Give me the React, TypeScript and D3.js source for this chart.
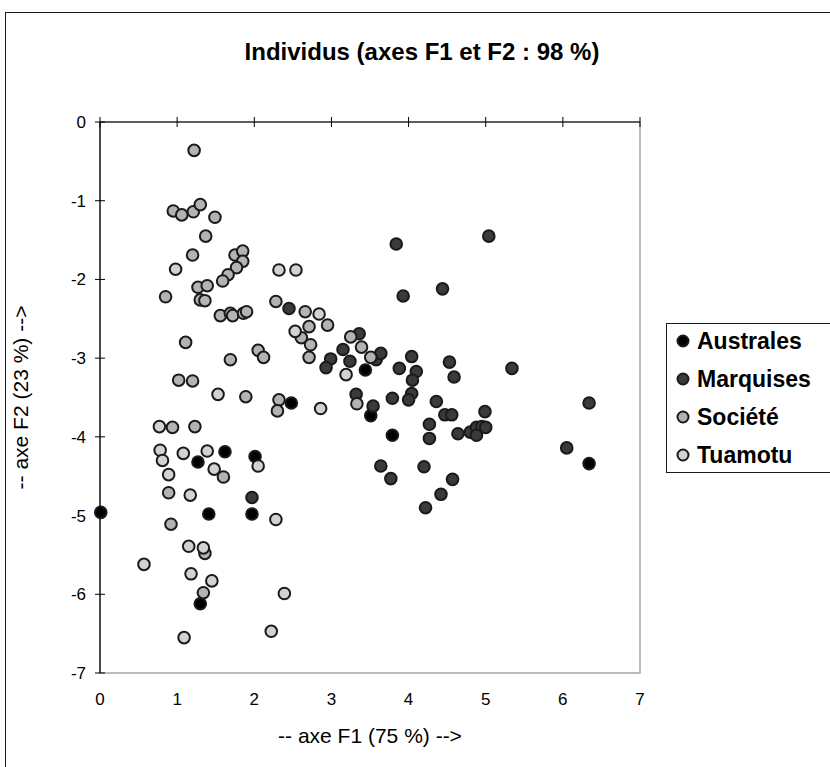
import React, { useEffect, useRef } from "react";
import * as d3 from "d3";

// individual scores on F1 / F2, per archipelago
const australes: [number, number][] = [
  [0.01, -4.96], [1.27, -4.32], [1.62, -4.19], [2.01, -4.25], [1.41, -4.98],
  [1.97, -4.98], [1.3, -6.12], [2.48, -3.57], [3.44, -3.15], [3.51, -3.73],
  [3.79, -3.98], [6.34, -4.34],
];

const marquises: [number, number][] = [
  [1.97, -4.77], [2.45, -2.37], [3.84, -1.55], [3.93, -2.21], [4.44, -2.12],
  [5.04, -1.45], [3.36, -2.69], [3.15, -2.89], [3.24, -3.04], [2.99, -3.01],
  [2.93, -3.12], [3.58, -3.02], [3.64, -2.94], [4.04, -2.98], [3.88, -3.13],
  [4.1, -3.17], [4.05, -3.28], [4.04, -3.45], [4.0, -3.53], [3.79, -3.51],
  [4.36, -3.55], [4.47, -3.72], [4.53, -3.05], [4.59, -3.24], [5.34, -3.13],
  [4.56, -3.72], [4.99, -3.68], [4.27, -3.84], [4.27, -4.02], [4.64, -3.96],
  [4.8, -3.94], [4.88, -3.88], [4.95, -3.87], [4.88, -3.98], [5.0, -3.88],
  [6.34, -3.57], [6.05, -4.14], [4.2, -4.38], [4.57, -4.54], [4.42, -4.73],
  [3.32, -3.46], [3.54, -3.61], [3.64, -4.37], [3.77, -4.53], [4.22, -4.9],
];

const societe: [number, number][] = [
  [1.22, -0.36], [0.95, -1.13], [1.06, -1.18], [1.21, -1.14], [1.3, -1.05],
  [1.49, -1.21], [1.37, -1.45], [1.2, -1.69], [1.75, -1.69], [1.85, -1.64],
  [1.85, -1.77], [1.77, -1.85], [1.66, -1.94], [1.59, -2.02], [0.85, -2.22],
  [1.27, -2.1], [1.39, -2.08], [1.3, -2.26], [1.36, -2.27], [2.28, -2.28],
  [1.56, -2.46], [1.69, -2.43], [1.72, -2.46], [1.86, -2.43], [1.9, -2.41],
  [1.11, -2.8], [2.05, -2.9], [2.12, -2.99], [1.69, -3.02], [1.02, -3.28],
  [1.2, -3.29], [1.89, -3.49], [2.32, -3.53], [2.3, -3.67], [0.94, -3.88],
  [1.23, -3.87], [1.6, -4.51], [0.89, -4.71], [0.92, -5.11], [1.36, -5.48],
  [1.34, -5.98], [2.66, -2.41], [2.95, -2.58], [2.71, -2.6], [2.61, -2.74],
  [2.73, -2.83], [2.71, -2.99], [3.25, -2.73], [3.39, -2.86], [3.51, -2.99],
  [3.33, -3.58],
];

const tuamotu: [number, number][] = [
  [0.98, -1.87], [2.32, -1.88], [2.54, -1.88], [1.53, -3.46], [0.77, -3.87],
  [0.78, -4.17], [0.81, -4.3], [1.08, -4.21], [1.39, -4.18], [2.05, -4.37],
  [1.48, -4.41], [0.89, -4.48], [1.17, -4.74], [2.28, -5.05], [1.15, -5.39],
  [1.34, -5.41], [0.57, -5.62], [1.18, -5.74], [1.45, -5.83], [2.39, -5.99],
  [1.09, -6.55], [2.22, -6.47], [2.84, -2.44], [2.53, -2.66], [3.19, -3.21],
  [2.86, -3.64],
];

const seriesNames = ["Australes", "Marquises", "Société", "Tuamotu"];
const seriesColors = ["#000000", "#3a3a3a", "#b3b3b3", "#d2d2d2"];
const xTicks = [0, 1, 2, 3, 4, 5, 6, 7];
const yTicks = [0, -1, -2, -3, -4, -5, -6, -7];

export default function App() {
  const svgRef = useRef<SVGSVGElement>(null);

  useEffect(() => {
    const width = 830;
    const height = 767;
    const svg = d3.select(svgRef.current)
      .attr("width", width)
      .attr("height", height)
      .style("font-family", "'Liberation Sans', Arial, sans-serif");
    svg.selectAll("*").remove();

    const left = 100, right = 640, top = 122, bottom = 673;
    const x = d3.scaleLinear().domain([0, 7]).range([left, right]);
    const y = d3.scaleLinear().domain([0, -7]).range([top, bottom]);

    // chart frame (runs off the picture on the right and bottom)
    svg.append("rect")
      .attr("x", 5.5).attr("y", 12.5)
      .attr("width", 900).attr("height", 900)
      .attr("fill", "#fff")
      .attr("stroke", "#1a1a1a");

    svg.append("text")
      .attr("x", 422).attr("y", 60)
      .attr("text-anchor", "middle")
      .attr("font-size", 24).attr("font-weight", "bold")
      .text("Individus (axes F1 et F2 : 98 %)");

    // plot area border
    svg.append("rect")
      .attr("x", left).attr("y", top)
      .attr("width", right - left).attr("height", bottom - top)
      .attr("fill", "none")
      .attr("stroke", "#a6a6a6").attr("stroke-width", 1.5);

    // x axis on y = 0 (top), labels low
    svg.append("line")
      .attr("x1", left).attr("x2", right)
      .attr("y1", top).attr("y2", top)
      .attr("stroke", "#000").attr("stroke-width", 1.2);
    svg.selectAll(".xtick").data(xTicks).join("line")
      .attr("x1", (d) => x(d)).attr("x2", (d) => x(d))
      .attr("y1", top - 5).attr("y2", top + 5)
      .attr("stroke", "#000");
    svg.selectAll(".xlab").data(xTicks).join("text")
      .attr("x", (d) => x(d)).attr("y", 705)
      .attr("text-anchor", "middle")
      .attr("font-size", 17)
      .text((d) => d);

    // y axis on x = 0
    svg.append("line")
      .attr("x1", left).attr("x2", left)
      .attr("y1", top).attr("y2", bottom)
      .attr("stroke", "#000").attr("stroke-width", 1.2);
    svg.selectAll(".ytick").data(yTicks).join("line")
      .attr("x1", left - 5).attr("x2", left + 5)
      .attr("y1", (d) => y(d)).attr("y2", (d) => y(d))
      .attr("stroke", "#000");
    svg.selectAll(".ylab").data(yTicks).join("text")
      .attr("x", 86).attr("y", (d) => y(d) + 6)
      .attr("text-anchor", "end")
      .attr("font-size", 17)
      .text((d) => d);

    svg.append("text")
      .attr("x", (left + right) / 2).attr("y", 743)
      .attr("text-anchor", "middle")
      .attr("font-size", 21)
      .text("-- axe F1 (75 %) -->");

    svg.append("text")
      .attr("transform", `translate(28, ${(top + bottom) / 2}) rotate(-90)`)
      .attr("text-anchor", "middle")
      .attr("font-size", 21)
      .text("-- axe F2 (23 %) -->");

    const allSeries = [australes, marquises, societe, tuamotu];
    allSeries.forEach((pts, i) => {
      svg.append("g").selectAll("circle").data(pts).join("circle")
        .attr("cx", (d) => x(d[0]))
        .attr("cy", (d) => y(d[1]))
        .attr("r", 5.8)
        .attr("fill", seriesColors[i])
        .attr("stroke", "#1a1a1a")
        .attr("stroke-width", 2);
    });

    // legend
    const lg = svg.append("g");
    lg.append("rect")
      .attr("x", 666.5).attr("y", 323.5)
      .attr("width", 170).attr("height", 149)
      .attr("fill", "#fff")
      .attr("stroke", "#1a1a1a");
    const rowY = d3.scalePoint().domain(seriesNames).range([341, 455]);
    seriesNames.forEach((name, i) => {
      lg.append("circle")
        .attr("cx", 683).attr("cy", rowY(name)!)
        .attr("r", 5.5)
        .attr("fill", seriesColors[i])
        .attr("stroke", "#1a1a1a")
        .attr("stroke-width", 2);
      lg.append("text")
        .attr("x", 697).attr("y", rowY(name)! + 8)
        .attr("font-size", 23).attr("font-weight", "bold")
        .text(name);
    });
  }, []);

  return (
    <svg ref={svgRef} style={{ position: "absolute", left: 0, top: 0 }} />
  );
}
